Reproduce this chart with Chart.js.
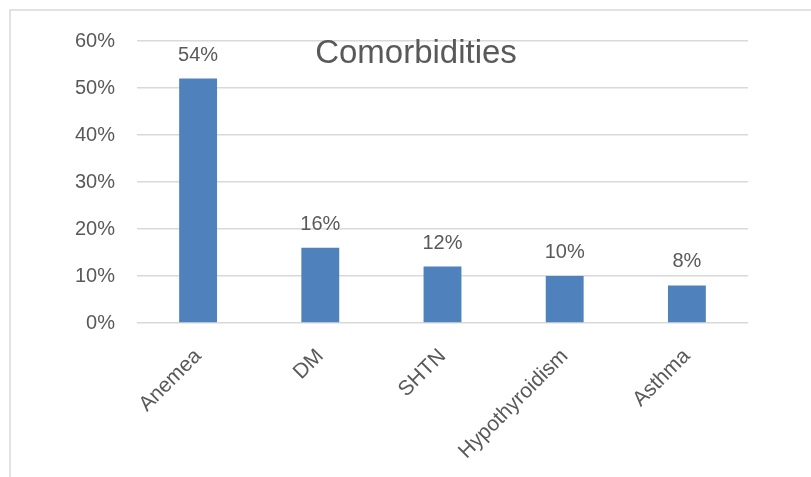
<!DOCTYPE html>
<html>
<head>
<meta charset="utf-8">
<script src="https://cdn.jsdelivr.net/npm/chart.js@4"></script>
<style>
  html, body { margin: 0; padding: 0; background: #fff; }
  #wrap { width: 811px; height: 477px; position: relative; }
</style>
</head>
<body>
<div id="wrap"><canvas id="grafica"></canvas></div>
<script>
// Datos
const categorias = ["Anemea", "DM", "SHTN", "Hypothyroidism", "Asthma"];
const valores = [52, 16, 12, 10, 8];
const etiquetas = ["54%", "16%", "12%", "10%", "8%"];
const titulo = "Comorbidities";

const colorTexto = "#595959";
const colorLinea = "#d9d9d9";
const fuente = "'Liberation Sans', Arial, sans-serif";

// Marco del gráfico (líneas izquierda y superior)
const marco = {
  id: "marco",
  beforeDraw(chart) {
    const ctx = chart.ctx;
    ctx.save();
    ctx.strokeStyle = colorLinea;
    ctx.lineWidth = 1.5;
    ctx.beginPath();
    ctx.moveTo(10, 477);
    ctx.lineTo(10, 10);
    ctx.lineTo(811, 10);
    ctx.stroke();
    ctx.restore();
  }
};

// Título y etiquetas de datos
const textos = {
  id: "textos",
  afterDatasetsDraw(chart) {
    const ctx = chart.ctx;
    ctx.save();
    ctx.fillStyle = colorTexto;
    ctx.textAlign = "center";

    ctx.font = "33px " + fuente;
    ctx.textBaseline = "middle";
    ctx.fillText(titulo, 416, 54);

    ctx.font = "20px " + fuente;
    ctx.textBaseline = "alphabetic";
    chart.getDatasetMeta(0).data.forEach((bar, i) => {
      ctx.fillText(etiquetas[i], bar.x, bar.y - 18);
    });
    ctx.restore();
  }
};

new Chart(document.getElementById("grafica"), {
  type: "bar",
  data: {
    labels: categorias,
    datasets: [{
      data: valores,
      backgroundColor: "#4f81bd",
      borderWidth: 0,
      barPercentage: 0.31,
      categoryPercentage: 1
    }]
  },
  options: {
    responsive: true,
    maintainAspectRatio: false,
    animation: false,
    layout: { padding: { top: 41, right: 63, left: 0, bottom: 0 } },
    plugins: {
      legend: { display: false },
      tooltip: { enabled: false }
    },
    scales: {
      x: {
        grid: { display: false, drawTicks: false },
        border: { display: false },
        ticks: {
          color: colorTexto,
          font: { family: fuente, size: 21 },
          minRotation: 45,
          maxRotation: 45,
          padding: 21
        },
        afterFit(scale) { scale.height = 154; }
      },
      y: {
        min: 0,
        max: 60,
        grid: { color: colorLinea, lineWidth: 1.5, drawTicks: false },
        border: { display: false },
        ticks: {
          stepSize: 10,
          color: colorTexto,
          font: { family: fuente, size: 20 },
          padding: 22,
          callback: (v) => v + "%"
        },
        afterFit(scale) { scale.width = 137; }
      }
    }
  },
  plugins: [marco, textos]
});
</script>
</body>
</html>
